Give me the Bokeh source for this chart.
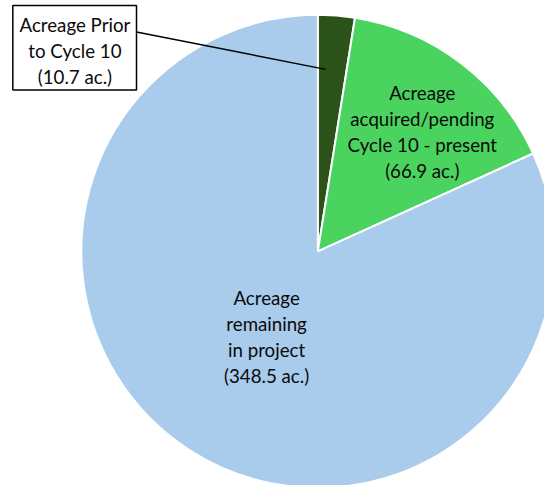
import numpy as np
from bokeh.plotting import figure
from bokeh.models import Range1d, ColumnDataSource
from bokeh.core.properties import value
from bokeh.embed import file_html
from bokeh.resources import INLINE

categories = ["Acreage Prior\nto Cycle 10", "Acreage\nacquired/pending\nCycle 10 - present", "Acreage\nremaining\nin project"]
acres = [10.7, 66.9, 348.5]
colors = ["#2b5219", "#4ad35f", "#a9cbec"]

vals = np.array(acres)
frac = vals / vals.sum()
ends = np.pi / 2 - 2 * np.pi * np.cumsum(frac)
starts = np.concatenate([[np.pi / 2], ends[:-1]])

# figure fits inside the 8px page margin; data units = reference pixels
W, H = 544, 485
RW, RH = 552, 493
s = W / RW
p = figure(width=W, height=H, output_backend="svg", toolbar_location=None,
           x_range=Range1d(0, RW), y_range=Range1d(0, RH), min_border=0)
p.axis.visible = False
p.grid.visible = False
p.outline_line_color = None
p.background_fill_color = "white"
p.border_fill_color = "white"

def Y(y):
    return RH - y

cx, cy, r = 322, Y(255), 240
src = ColumnDataSource(dict(start=starts, end=ends, color=colors))
p.wedge(x=cx, y=cy, radius=r, start_angle="start", end_angle="end",
        direction="clock", fill_color="color", line_color="white", line_width=2, source=src)

labels = [f"{c}\n({a} ac.)" for c, a in zip(categories, acres)]
font = value("Lato")

# callout for first slice
p.line(x=[138, 330], y=[Y(32), Y(70)], line_color="black", line_width=1.5)
p.quad(left=[12.5], right=[138], top=[Y(5)], bottom=[Y(91)], fill_color="white",
       line_color="black", line_width=1.5)

lx = [75.5, 428, 270]
ly = [Y(51.5), Y(134), Y(342)]
fs = f"{19 * s:.1f}px"
p.text(x=lx, y=ly, text=labels, text_align="center", text_baseline="middle",
       text_font=font, text_font_size=fs, text_color="#0a0a0a", text_line_height=1.18)

open("out.html", "w").write(file_html(p, INLINE))
